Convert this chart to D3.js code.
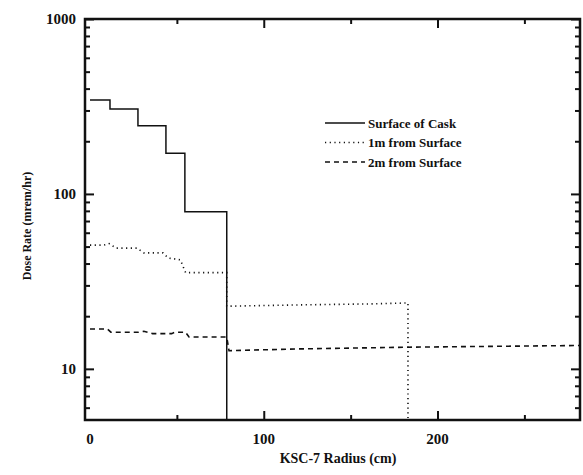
<!DOCTYPE html>
<html>
<head>
<meta charset="utf-8">
<script src="https://cdn.jsdelivr.net/npm/d3@7"></script>
<style>
  body { margin: 0; background: #fff; }
  svg text { font-family: 'Liberation Serif', 'Times New Roman', Tinos, serif; font-weight: 700; }
</style>
</head>
<body>
<div id="chart"></div>
<script>
const width = 583, height = 475;

// step profiles, [radius cm, dose rate mrem/hr]
const surfaceOfCask = [
  [0, 344], [11.5, 344], [11.5, 306], [27.6, 306], [27.6, 245], [43.7, 245],
  [43.7, 171], [54.6, 171], [54.6, 79], [78.7, 79], [78.7, 5.1]
]
const oneMeter = [
  [0, 51], [8, 51], [11, 52], [15, 49], [27, 49], [31, 46], [42, 46],
  [45, 43], [52, 42], [55, 35.5], [78.7, 35.5], [78.7, 22.8],
  [120, 23.2], [160, 23.5], [183, 23.8], [183, 5.1]
]
const twoMeter = [
  [0, 16.9], [10, 16.9], [12, 16.2], [28, 16.2], [31, 16.4], [36, 15.9],
  [47, 15.9], [49, 16.2], [55, 16.2], [57, 15.2], [78.7, 15.2], [80, 12.7],
  [120, 13.0], [183, 13.3], [282, 13.6]
]

const series = [
  { name: 'Surface of Cask', data: surfaceOfCask, dash: null },
  { name: '1m from Surface', data: oneMeter, dash: '1.2,3.5' },
  { name: '2m from Surface', data: twoMeter, dash: '5,4' }
]

const xTicks = [0, 100, 200]
const yTicks = [10, 100, 1000]

const margin = { left: 85, top: 19, right: 3, bottom: 55 }

const x = d3.scaleLinear()
  .domain([0, 282])
  .range([90, width - margin.right])

const y = d3.scaleLog()
  .domain([5.1, 1000])
  .range([height - margin.bottom, margin.top])

const svg = d3.select('#chart').append('svg')
  .attr('width', width)
  .attr('height', height)

const line = d3.line()
  .x(d => x(d[0]))
  .y(d => y(d[1]))

svg.selectAll('path.series')
  .data(series)
  .enter().append('path')
  .attr('class', 'series')
  .attr('d', d => line(d.data))
  .attr('fill', 'none')
  .attr('stroke', '#111')
  .attr('stroke-width', d => d.dash ? 1.6 : 1.5)
  .attr('stroke-dasharray', d => d.dash)

// axes, ticks pointing inward
const x0 = margin.left, x1 = width - margin.right
const y0 = height - margin.bottom, y1 = margin.top

const minorY = []
for (let e = 0; e < 3; e++) {
  for (let k = 2; k < 10; k++) {
    const v = k * Math.pow(10, e)
    if (v >= 5.1 && v < 1000) minorY.push(v)
  }
}

svg.append('g')
  .attr('transform', `translate(${x0},0)`)
  .call(d3.axisRight(y).tickValues(minorY).tickSize(5).tickFormat(''))
svg.append('g')
  .attr('transform', `translate(${x0},0)`)
  .call(d3.axisRight(y).tickValues(yTicks).tickSize(9).tickFormat(''))
svg.append('g')
  .attr('transform', `translate(${x1},0)`)
  .call(d3.axisLeft(y).tickValues(minorY).tickSize(5).tickFormat(''))
svg.append('g')
  .attr('transform', `translate(${x1},0)`)
  .call(d3.axisLeft(y).tickValues(yTicks).tickSize(9).tickFormat(''))

svg.append('g')
  .attr('transform', `translate(0,${y0})`)
  .call(d3.axisTop(x).tickValues([50, 150, 250]).tickSize(5).tickFormat(''))
svg.append('g')
  .attr('transform', `translate(0,${y0})`)
  .call(d3.axisTop(x).tickValues([100, 200]).tickSize(9).tickFormat(''))
svg.append('g')
  .attr('transform', `translate(0,${y1})`)
  .call(d3.axisBottom(x).tickValues([50, 150, 250]).tickSize(5).tickFormat(''))
svg.append('g')
  .attr('transform', `translate(0,${y1})`)
  .call(d3.axisBottom(x).tickValues([100, 200]).tickSize(9).tickFormat(''))

svg.selectAll('.domain').remove()
svg.selectAll('.tick line').attr('stroke', '#111').attr('stroke-width', 2)

svg.append('rect')
  .attr('x', x0).attr('y', y1)
  .attr('width', x1 - x0).attr('height', y0 - y1)
  .attr('fill', 'none')
  .attr('stroke', '#111')
  .attr('stroke-width', 2.5)

function label(sel, size) {
  return sel.attr('font-size', size).attr('fill', '#111')
}

// tick labels
svg.selectAll('text.ylab')
  .data(yTicks)
  .enter().append('text')
  .attr('class', 'ylab')
  .attr('x', x0 - 9)
  .attr('y', d => y(d) + 5)
  .attr('text-anchor', 'end')
  .call(label, 15)
  .text(d => d)

svg.selectAll('text.xlab')
  .data(xTicks)
  .enter().append('text')
  .attr('class', 'xlab')
  .attr('x', d => x(d))
  .attr('y', y0 + 24)
  .attr('text-anchor', 'middle')
  .call(label, 15)
  .text(d => d)

svg.append('text')
  .attr('x', 338)
  .attr('y', 463)
  .attr('text-anchor', 'middle')
  .call(label, 14)
  .text('KSC-7 Radius (cm)')

svg.append('text')
  .attr('transform', `translate(31,226) rotate(-90)`)
  .attr('text-anchor', 'middle')
  .call(label, 12)
  .text('Dose Rate (mrem/hr)')

// legend
const legend = svg.append('g').attr('transform', 'translate(325,123)')
const item = legend.selectAll('g')
  .data(series)
  .enter().append('g')
  .attr('transform', (d, i) => `translate(0,${i * 19.5})`)
item.append('line')
  .attr('x1', 0).attr('x2', 40)
  .attr('stroke', '#111')
  .attr('stroke-width', 1.5)
  .attr('stroke-dasharray', d => d.dash)
item.append('text')
  .attr('x', 43)
  .attr('y', 4.5)
  .call(label, 13)
  .text(d => d.name)
</script>
</body>
</html>
